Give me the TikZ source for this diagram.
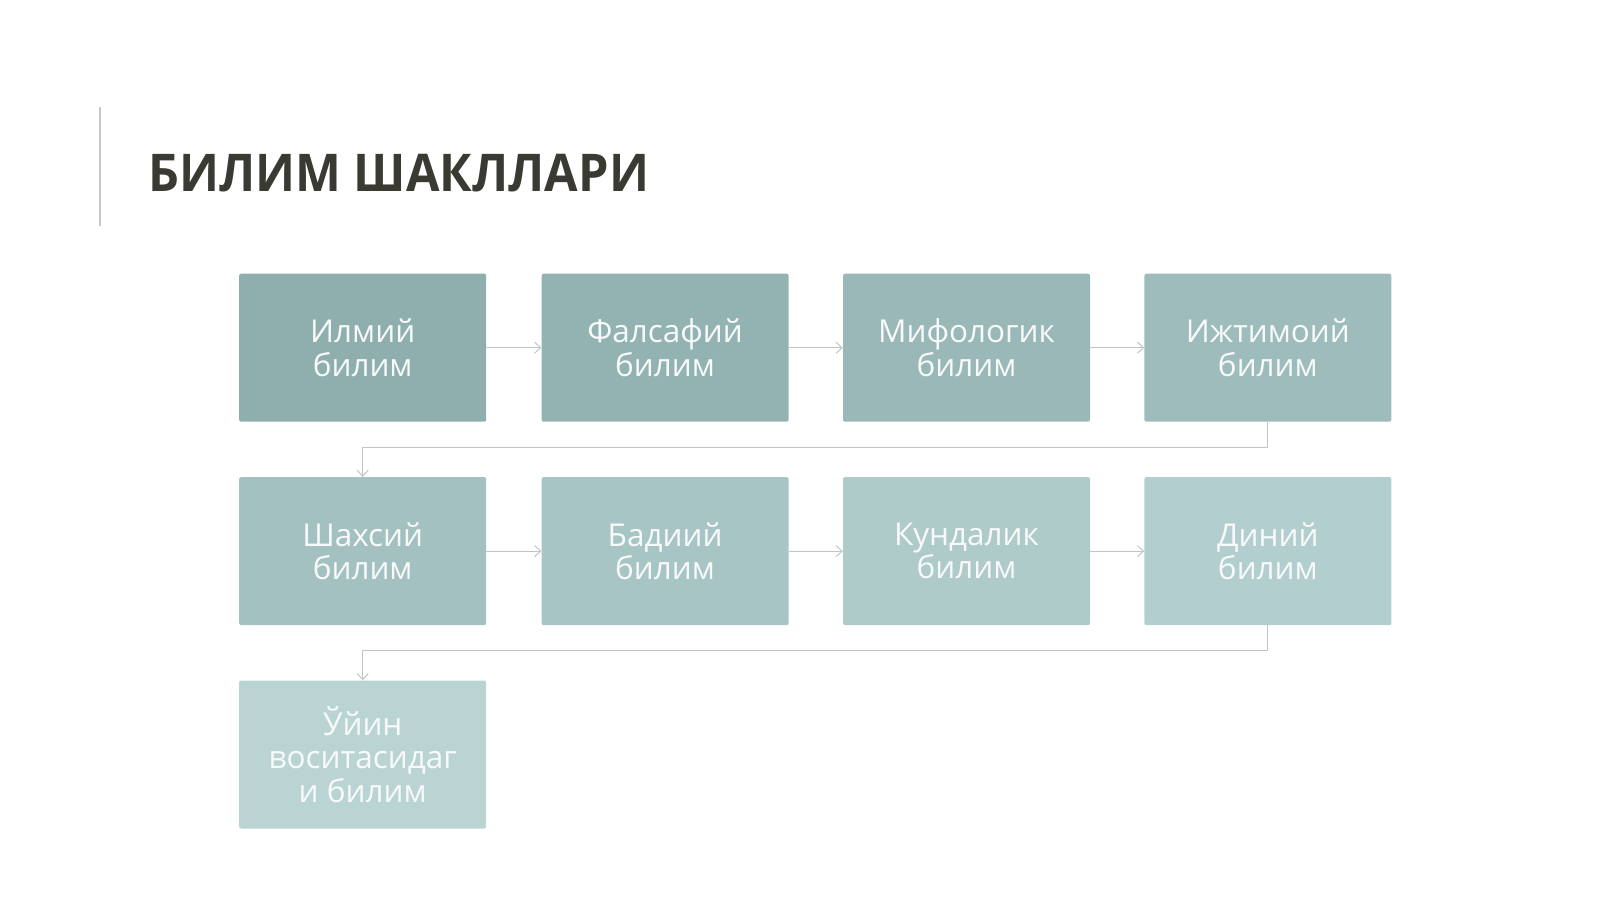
\documentclass[tikz,border=0pt]{standalone}
\usepackage{fontspec}
\setmainfont{Open Sans}
\usetikzlibrary{positioning,arrows.meta}
\definecolor{boxA}{HTML}{8EAFAE}
\definecolor{boxB}{HTML}{BAD4D4}
\definecolor{lineC}{HTML}{BEC6C6}
\definecolor{titleC}{HTML}{3A3A32}
\definecolor{barC}{HTML}{C4C8C8}
\tikzset{kbox/.style={draw=none,fill=#1,rectangle,minimum width=247pt,minimum height=148pt,inner sep=0pt,
text=white!94!boxA,align=center,font=\fontsize{31.5}{33.5}\selectfont,rounded corners=2pt},
flow/.style={draw=lineC,line width=1pt,-{Straight Barb[length=6pt,width=11pt]}}}

\begin{document}
\begin{tikzpicture}[x=1pt,y=-1pt,node distance=55pt]
	\useasboundingbox (0,0) rectangle (1600,899);
	% title
	\draw[barC,line width=1.5pt] (100,107) -- (100,226);
	\node[anchor=base west,inner sep=0pt,text=titleC,font=\fontsize{52}{60}\selectfont\bfseries] (title) at (148,191) {\scalebox{0.935}[1]{БИЛИМ ШАКЛЛАРИ}};
	% boxes
	\node[kbox=boxB!0!boxA,anchor=north west] (ilm) at (239,273.5) {Илмий\\билим};
	\node[kbox=boxB!12!boxA,right=55pt of ilm] (fals) {Фалсафий\\билим};
	\node[kbox=boxB!24!boxA,right=54pt of fals] (mif) {Мифологик\\билим};
	\node[kbox=boxB!36!boxA,right=54pt of mif] (ijt) {Ижтимоий\\билим};
	\node[kbox=boxB!48!boxA,below=of ilm] (shax) {Шахсий\\билим};
	\node[kbox=boxB!60!boxA,below=of fals] (bad) {Бадиий\\билим};
	\node[kbox=boxB!72!boxA,below=of mif] (kund) {Кундалик\\билим};
	\node[kbox=boxB!84!boxA,below=of ijt] (din) {Диний\\билим};
	\node[kbox=boxB!100!boxA,below=of shax] (uyin) {Ўйин\\воситасидаг\\и билим};
	% connectors
	\foreach \a/\b in {ilm/fals,fals/mif,mif/ijt,shax/bad,bad/kund,kund/din}
		\draw[flow] (\a) -- (\b);
	\draw[flow] (ijt.south) -- ++(0,25.5) -| (shax.north);
	\draw[flow] (din.south) -- ++(0,25.5) -| (uyin.north);
\end{tikzpicture}
\end{document}
